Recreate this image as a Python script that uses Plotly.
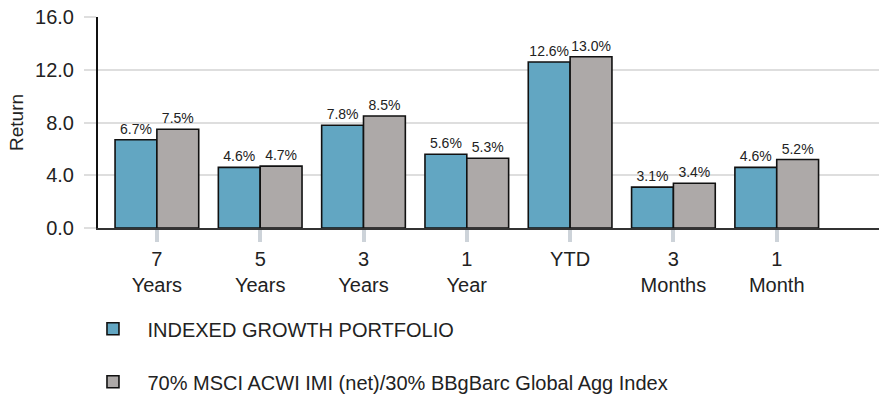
import plotly.graph_objects as go

categories = ["7<br>Years", "5<br>Years", "3<br>Years", "1<br>Year", "YTD", "3<br>Months", "1<br>Month"]
portfolio = [6.7, 4.6, 7.8, 5.6, 12.6, 3.1, 4.6]
benchmark = [7.5, 4.7, 8.5, 5.3, 13.0, 3.4, 5.2]
series_names = ["INDEXED GROWTH PORTFOLIO", "70% MSCI ACWI IMI (net)/30% BBgBarc Global Agg Index"]
y_ticks = [0, 4, 8, 12, 16]

FONT = "Liberation Sans Narrow, Arial Narrow, Liberation Sans, Arial, sans-serif"

fig = go.Figure()
for name, vals, color, grp in [(series_names[0], portfolio, "#62A6C2", "a"),
                               (series_names[1], benchmark, "#ADA9A8", "b")]:
    fig.add_trace(go.Bar(
        x=categories, y=vals, name=name, legendgroup=grp,
        marker=dict(color=color, line=dict(color="#111111", width=1.6)),
        text=[f"{v:.1f}%" for v in vals], textposition="outside",
        textfont=dict(family=FONT, size=14, color="#222222"),
        cliponaxis=False,
    ))

fig.update_layout(
    width=879, height=404,
    margin=dict(l=98, r=0, t=17, b=176, autoexpand=False),
    plot_bgcolor="white", paper_bgcolor="white",
    barmode="group", bargap=0.19, bargroupgap=0,
    font=dict(family=FONT, size=20, color="#222222"),
    showlegend=True,
    legend=dict(orientation="v", x=-0.025, xanchor="left", y=-0.385, yanchor="top",
                font=dict(family=FONT, size=20, color="#222222"),
                itemwidth=59,
                tracegroupgap=24, bgcolor="rgba(0,0,0,0)"),
)
fig.update_xaxes(
    type="category", range=[-0.57, 6.99], automargin=False,
    showline=True, linecolor="#333333", linewidth=1.5,
    ticks="outside", ticklen=12, tickwidth=4, tickcolor="#cdd3d9",
    tickfont=dict(family=FONT, size=20, color="#222222"),
    showgrid=False,
)
fig.update_yaxes(
    range=[0, 16.02], tickvals=y_ticks, tickformat=".1f", automargin=False,
    ticklabeloverflow="allow",
    showline=True, linecolor="#111111", linewidth=2,
    showgrid=True, gridcolor="#dedede", gridwidth=2,
    ticks="outside", ticklen=12, tickwidth=2, tickcolor="#dedede",
    ticklabelstandoff=6,
    tickfont=dict(family=FONT, size=20, color="#222222"),
    title=dict(text="Return", font=dict(family=FONT, size=19, color="#222222"), standoff=6),
    zeroline=False,
)

fig.write_html("out.html", config={"displayModeBar": False},
               post_script="document.body.style.margin='0';")
